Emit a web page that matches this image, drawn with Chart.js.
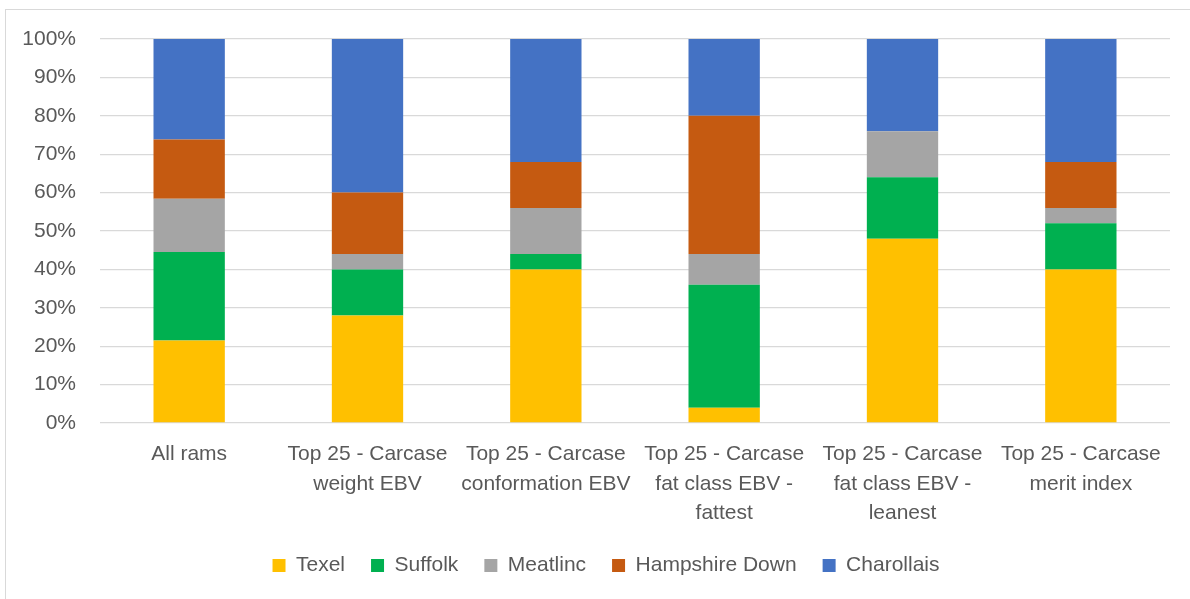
<!DOCTYPE html>
<html>
<head>
<meta charset="utf-8">
<script src="https://cdn.jsdelivr.net/npm/chart.js@4.4.1/dist/chart.umd.min.js"></script>
<style>
  html, body { margin: 0; padding: 0; background: #ffffff; overflow: hidden; }
  #wrap { position: relative; width: 1190px; height: 599px; }
  #frame { position: absolute; left: 5px; top: 9px; width: 1220px; height: 620px; border: 1px solid #d9d9d9; box-sizing: border-box; }
  canvas { position: absolute; left: 0; top: 0; }
</style>
</head>
<body>
<div id="wrap">
  <div id="frame"></div>
  <canvas id="c" width="1190" height="599"></canvas>
</div>
<script>
const categories = [
  ["All rams"],
  ["Top 25 - Carcase", "weight EBV"],
  ["Top 25 - Carcase", "conformation EBV"],
  ["Top 25 - Carcase", "fat class EBV -", "fattest"],
  ["Top 25 - Carcase", "fat class EBV -", "leanest"],
  ["Top 25 - Carcase", "merit index"]
];
const texel      = [21.5, 28, 40, 4, 48, 40];
const suffolk    = [23.0, 12, 4, 32, 16, 12];
const meatlinc   = [13.9, 4, 12, 8, 12, 4];
const hampshire  = [15.4, 16, 12, 36, 0, 12];
const charollais = [26.2, 40, 32, 20, 24, 32];
const seriesNames = ["Texel", "Suffolk", "Meatlinc", "Hampshire Down", "Charollais"];
const yTicks = [0, 10, 20, 30, 40, 50, 60, 70, 80, 90, 100];

const colors = ["#FFC000", "#00B050", "#A5A5A5", "#C55A11", "#4472C4"];
const seriesData = [texel, suffolk, meatlinc, hampshire, charollais];

const FONT = "'Liberation Sans', Arial, sans-serif";
const TXT = "#595959";

const shiftLegend = {
  id: 'shiftLegend',
  afterLayout(chart) {
    if (chart.legend) { chart.legend.left += 11; chart.legend.right += 11; }
  }
};

new Chart(document.getElementById('c'), {
  type: 'bar',
  data: {
    labels: categories,
    datasets: seriesNames.map((n, i) => ({
      label: n,
      data: seriesData[i],
      backgroundColor: colors[i],
      borderWidth: 0,
      barPercentage: 0.4,
      categoryPercentage: 1.0
    }))
  },
  plugins: [shiftLegend],
  options: {
    responsive: false,
    animation: false,
    devicePixelRatio: 1,
    layout: { padding: { left: 20, right: 20, top: 39, bottom: 13 } },
    plugins: {
      tooltip: { enabled: false },
      title: { display: false },
      legend: {
        position: 'bottom',
        labels: {
          boxWidth: 13,
          boxHeight: 13,
          padding: 26,
          color: TXT,
          font: { family: FONT, size: 21 }
        }
      }
    },
    scales: {
      x: {
        stacked: true,
        grid: { display: false, drawTicks: false },
        border: { display: false },
        ticks: {
          color: TXT,
          padding: 17,
          maxRotation: 0,
          autoSkip: false,
          font: { family: FONT, size: 21, lineHeight: 1.4 }
        },
        afterFit: (s) => { s.height = 106; }
      },
      y: {
        stacked: true,
        min: 0,
        max: 100,
        afterBuildTicks: (s) => { s.ticks = yTicks.map(v => ({ value: v })); },
        grid: { color: '#d9d9d9', lineWidth: 1.3, drawTicks: false },
        border: { display: false },
        ticks: {
          color: TXT,
          padding: 24,
          font: { family: FONT, size: 21 },
          callback: (v) => v + '%'
        },
        afterFit: (s) => { s.width = 80; }
      }
    }
  }
});
</script>
</body>
</html>
